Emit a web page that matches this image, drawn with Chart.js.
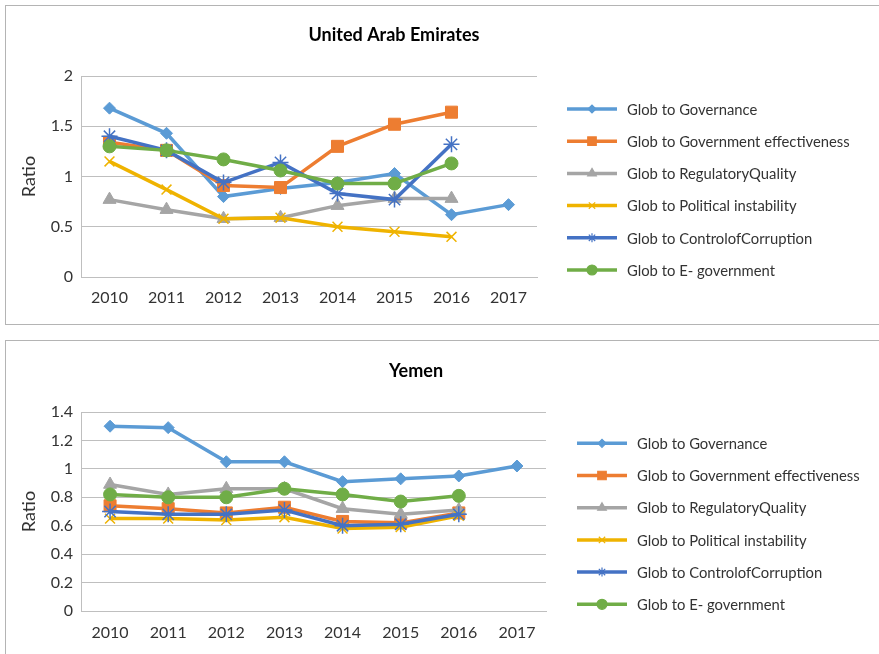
<!DOCTYPE html>
<html>
<head>
<meta charset="utf-8">
<title>Glob ratios</title>
<script src="https://cdn.jsdelivr.net/npm/chart.js@4.4.1/dist/chart.umd.min.js"></script>
<style>
  body { margin: 0; background: #fff; width: 879px; height: 654px; overflow: hidden; position: relative; }
  .frame { position: absolute; left: 5px; width: 900px; border: 1px solid #b4b4b4; box-sizing: border-box; }
  #frameUae { top: 5px; height: 320px; }
  #frameYem { top: 340px; height: 340px; }
  canvas { position: absolute; left: 0; }
  #uaeChart { top: 0; }
  #yemChart { top: 340px; }
</style>
</head>
<body>
<div class="frame" id="frameUae"></div>
<div class="frame" id="frameYem"></div>
<canvas id="uaeChart" width="879" height="324"></canvas>
<canvas id="yemChart" width="879" height="314"></canvas>
<script>
// ---- data ----
const years = ['2010', '2011', '2012', '2013', '2014', '2015', '2016', '2017'];

const seriesNames = [
  'Glob to Governance',
  'Glob to Government effectiveness',
  'Glob to RegulatoryQuality',
  'Glob to Political instability',
  'Glob to ControlofCorruption',
  'Glob to E- government'
];

// United Arab Emirates
const uaeGovernance  = [1.68, 1.43, 0.80, 0.88, 0.94, 1.03, 0.62, 0.72];
const uaeEffective   = [1.34, 1.26, 0.91, 0.89, 1.30, 1.52, 1.64];
const uaeRegulatory  = [0.77, 0.67, 0.58, 0.59, 0.71, 0.78, 0.78];
const uaePolitical   = [1.15, 0.87, 0.58, 0.59, 0.50, 0.45, 0.40];
const uaeCorruption  = [1.40, 1.26, 0.94, 1.14, 0.83, 0.77, 1.32];
const uaeEgov        = [1.30, 1.26, 1.17, 1.06, 0.93, 0.93, 1.13];
const uaeTicks       = [0, 0.5, 1, 1.5, 2];

// Yemen
const yemGovernance  = [1.30, 1.29, 1.05, 1.05, 0.91, 0.93, 0.95, 1.02];
const yemEffective   = [0.74, 0.72, 0.69, 0.73, 0.63, 0.62, 0.69];
const yemRegulatory  = [0.89, 0.82, 0.86, 0.86, 0.72, 0.68, 0.71];
const yemPolitical   = [0.65, 0.65, 0.64, 0.66, 0.58, 0.59, 0.67];
const yemCorruption  = [0.70, 0.68, 0.68, 0.71, 0.60, 0.61, 0.68];
const yemEgov        = [0.82, 0.80, 0.80, 0.86, 0.82, 0.77, 0.81];
const yemTicks       = [0, 0.2, 0.4, 0.6, 0.8, 1, 1.2, 1.4];

// ---- styling ----
const seriesColors  = ['#5b9bd5', '#ed7d31', '#a5a5a5', '#efb300', '#4472c4', '#70ad47'];
const seriesMarkers = ['rectRot', 'rect', 'triangle', 'crossRot', 'star', 'circle'];
const markerRadius  = [6, 8.5, 7.5, 7, 8, 6.5];
const legendRadius  = [4, 6, 5, 4.5, 4.5, 5];
const FONT = 'Lato, "Noto Sans", sans-serif';
const TEXT = '#333333';
const GRID = '#bfbfbf';

// title, axis caption and the line+marker legend
const frameText = {
  id: 'frameText',
  afterDraw(chart, args, o) {
    const ctx = chart.ctx;
    const area = chart.chartArea;
    ctx.save();
    ctx.textBaseline = 'middle';
    ctx.textAlign = 'center';
    ctx.fillStyle = '#000';
    ctx.font = 'bold 18px ' + FONT;
    ctx.fillText(o.title, o.titleX, o.titleY);

    ctx.save();
    ctx.fillStyle = TEXT;
    ctx.font = '18px ' + FONT;
    ctx.translate(29, (area.top + area.bottom) / 2);
    ctx.rotate(-Math.PI / 2);
    ctx.fillText('Ratio', 0, 0);
    ctx.restore();

    ctx.textAlign = 'left';
    ctx.font = '14.8px ' + FONT;
    chart.data.datasets.forEach((ds, i) => {
      const y = o.legendY + i * 32.2;
      const x0 = o.legendX;
      ctx.strokeStyle = ds.borderColor;
      ctx.lineWidth = 3.5;
      ctx.beginPath();
      ctx.moveTo(x0, y);
      ctx.lineTo(x0 + 50, y);
      ctx.stroke();
      ctx.fillStyle = ds.borderColor;
      ctx.lineWidth = 1.2;
      Chart.helpers.drawPoint(ctx, {
        pointStyle: seriesMarkers[i], radius: legendRadius[i], rotation: 0, borderWidth: 1.2
      }, x0 + 25, y);
      ctx.fillStyle = TEXT;
      ctx.fillText(ds.label, x0 + 60, y + 1);
    });
    ctx.restore();
  }
};

function makeChart(id, values, ticks, box) {
  const datasets = values.map((data, i) => ({
    label: seriesNames[i],
    data: data,
    borderColor: seriesColors[i],
    backgroundColor: seriesColors[i],
    pointBackgroundColor: seriesColors[i],
    pointBorderColor: seriesColors[i],
    pointStyle: seriesMarkers[i],
    pointRadius: markerRadius[i],
    pointHoverRadius: markerRadius[i],
    pointBorderWidth: (seriesMarkers[i] === 'crossRot' || seriesMarkers[i] === 'star') ? 1.5 : 1,
    borderWidth: 3.5,
    tension: 0,
    order: 6 - i
  }));

  return new Chart(document.getElementById(id), {
    type: 'line',
    data: { labels: years, datasets },
    plugins: [frameText],
    options: {
      responsive: false,
      animation: false,
      events: [],
      layout: { padding: box.padding },
      plugins: {
        legend: { display: false },
        tooltip: { enabled: false },
        frameText: box.text
      },
      scales: {
        x: {
          offset: true,
          grid: { display: false, drawTicks: false },
          border: { display: true, color: GRID, width: 1 },
          ticks: { color: TEXT, font: { family: FONT, size: 16 }, padding: box.xPad, maxRotation: 0 },
          afterFit: s => { s.height = 30; }
        },
        y: {
          min: ticks[0],
          max: ticks[ticks.length - 1],
          afterBuildTicks: s => { s.ticks = ticks.map(v => ({ value: v })); },
          grid: { color: GRID, lineWidth: 1, drawTicks: false },
          border: { display: true, color: GRID, width: 1 },
          ticks: { color: TEXT, font: { family: FONT, size: 16 }, padding: 8, callback: v => String(v) },
          afterFit: s => { s.width = 50; }
        }
      }
    }
  });
}

makeChart('uaeChart',
  [uaeGovernance, uaeEffective, uaeRegulatory, uaePolitical, uaeCorruption, uaeEgov],
  uaeTicks,
  {
    padding: { left: 31, right: 342, top: 76, bottom: 17 },
    xPad: 11,
    text: { title: 'United Arab Emirates', titleX: 394, titleY: 35, legendX: 567, legendY: 109 }
  });

makeChart('yemChart',
  [yemGovernance, yemEffective, yemRegulatory, yemPolitical, yemCorruption, yemEgov],
  yemTicks,
  {
    padding: { left: 31, right: 333, top: 72, bottom: 13 },
    xPad: 12,
    text: { title: 'Yemen', titleX: 416, titleY: 31, legendX: 577, legendY: 103.3 }
  });
</script>
</body>
</html>
